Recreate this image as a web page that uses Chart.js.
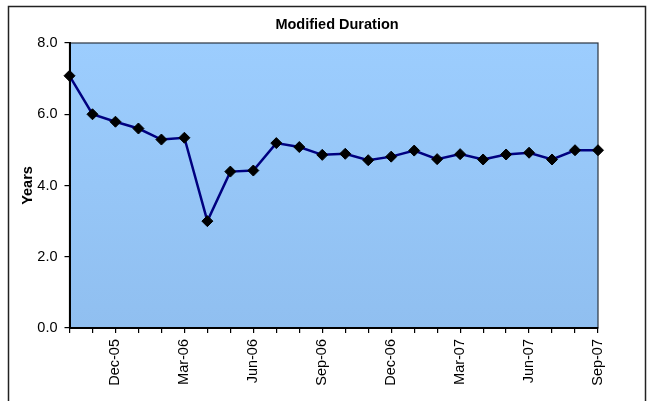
<!DOCTYPE html>
<html>
<head>
<meta charset="utf-8">
<script src="https://cdn.jsdelivr.net/npm/chart.js@4/dist/chart.umd.min.js"></script>
<style>
  html, body { margin: 0; padding: 0; background: #fff; }
  #wrap { width: 651px; height: 401px; position: relative; }
</style>
</head>
<body>
<div id="wrap"><canvas id="durationChart" width="651" height="401"></canvas></div>
<script>
// Months on the x axis (only every third one gets a label)
var months = ['Oct-05', 'Nov-05', 'Dec-05', 'Jan-06', 'Feb-06', 'Mar-06', 'Apr-06', 'May-06',
    'Jun-06', 'Jul-06', 'Aug-06', 'Sep-06', 'Oct-06', 'Nov-06', 'Dec-06', 'Jan-07',
    'Feb-07', 'Mar-07', 'Apr-07', 'May-07', 'Jun-07', 'Jul-07', 'Aug-07', 'Sep-07'];

// Modified duration in years
var duration = [7.08, 6.00, 5.79, 5.60, 5.29, 5.34, 3.00, 4.39, 4.42, 5.19, 5.08, 4.86,
    4.89, 4.71, 4.81, 4.98, 4.74, 4.88, 4.73, 4.87, 4.92, 4.73, 4.99, 4.99];

// Y axis ticks
var yTicks = [0, 2, 4, 6, 8];

var chartTitle = 'Modified Duration';
var yTitle = 'Years';

var font = 'Liberation Sans, Arial, sans-serif';

// Draws the outer frame, gradient plot background and the chart title
var framePlugin = {
    id: 'frame',
    beforeDraw: function (chart) {
        var ctx = chart.ctx;
        var a = chart.chartArea;
        ctx.save();
        ctx.fillStyle = '#ffffff';
        ctx.fillRect(0, 0, chart.width, chart.height);
        ctx.strokeStyle = '#222222';
        ctx.lineWidth = 1.5;
        ctx.strokeRect(8.5, 6.5, 637, 420);
        var grad = ctx.createLinearGradient(0, a.top, 0, a.bottom);
        grad.addColorStop(0, '#9ccdfe');
        grad.addColorStop(1, '#90bff0');
        ctx.fillStyle = grad;
        ctx.fillRect(a.left, a.top, a.right - a.left, a.bottom - a.top);
        ctx.strokeStyle = '#2b3440';
        ctx.lineWidth = 1.2;
        ctx.strokeRect(a.left, a.top, a.right - a.left, a.bottom - a.top);
        ctx.restore();
    },
    afterDraw: function (chart) {
        var ctx = chart.ctx;
        ctx.save();
        ctx.fillStyle = '#000000';
        ctx.font = 'bold 14.5px ' + font;
        ctx.textAlign = 'center';
        ctx.textBaseline = 'middle';
        ctx.fillText(chartTitle, 337, 25);
        ctx.restore();
    }
};

var ctx = document.getElementById('durationChart').getContext('2d');

var myChart = new Chart(ctx, {
    type: 'line',
    data: {
        labels: months,
        datasets: [{
            label: 'Modified Duration',
            data: duration,
            borderColor: '#000080',
            borderWidth: 2.5,
            pointStyle: 'rectRot',
            pointRadius: 5.5,
            pointBackgroundColor: '#000000',
            pointBorderColor: '#000000',
            pointBorderWidth: 1,
            tension: 0,
            fill: false
        }]
    },
    options: {
        responsive: false,
        animation: false,
        layout: {
            padding: { left: 0, right: 53, top: 43, bottom: 0 }
        },
        plugins: {
            legend: { display: false },
            title: { display: false },
            tooltip: { enabled: false }
        },
        scales: {
            x: {
                offset: false,
                afterFit: function (scale) { scale.height = 73; },
                grid: {
                    drawOnChartArea: false,
                    drawTicks: true,
                    tickLength: 5,
                    color: '#000000',
                    lineWidth: 1.2
                },
                border: { display: true, color: '#000000', width: 2 },
                ticks: {
                    autoSkip: false,
                    maxRotation: 90,
                    minRotation: 90,
                    padding: 6,
                    color: '#000000',
                    font: { family: font, size: 14.5 },
                    callback: function (val, index) {
                        return (index - 2) % 3 === 0 ? months[index] : '';
                    }
                }
            },
            y: {
                min: 0,
                max: 8,
                afterFit: function (scale) { scale.width = 69.5; },
                afterBuildTicks: function (scale) {
                    scale.ticks = yTicks.map(function (v) { return { value: v }; });
                },
                grid: {
                    drawOnChartArea: false,
                    drawTicks: true,
                    tickLength: 5,
                    color: '#000000',
                    lineWidth: 1.2
                },
                border: { display: true, color: '#000000', width: 2 },
                ticks: {
                    padding: 7,
                    color: '#000000',
                    font: { family: font, size: 14.5 },
                    callback: function (val) { return Number(val).toFixed(1); }
                },
                title: {
                    display: true,
                    text: yTitle,
                    color: '#000000',
                    font: { family: font, size: 14.5, weight: 'bold' },
                    padding: { top: 19, bottom: 0 }
                }
            }
        }
    },
    plugins: [framePlugin]
});
</script>
</body>
</html>
